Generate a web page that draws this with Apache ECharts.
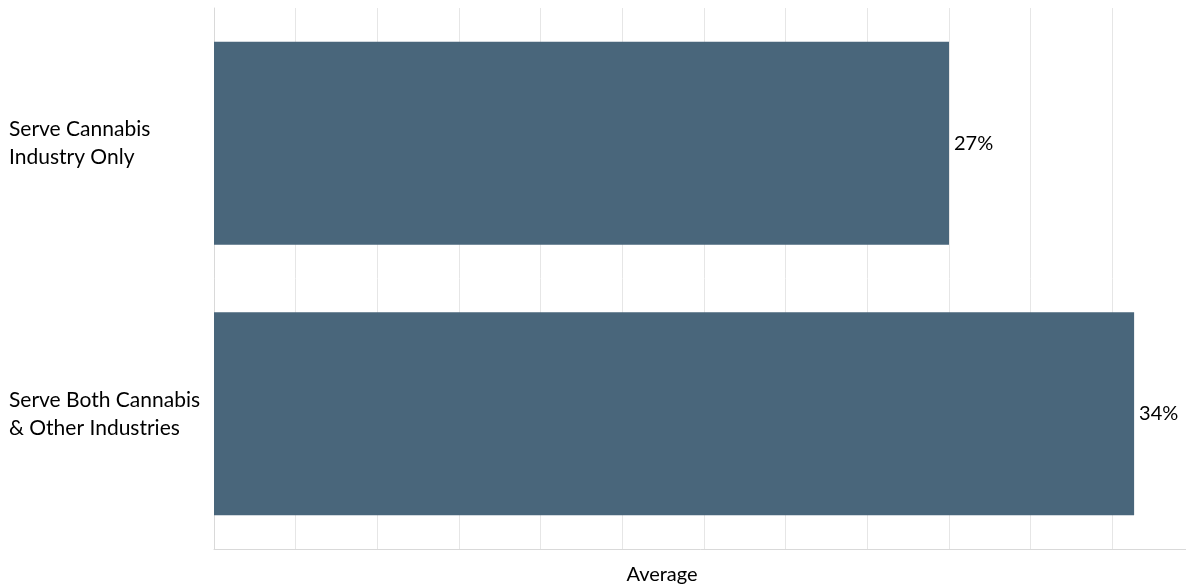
<!DOCTYPE html>
<html><head><meta charset="utf-8">
<script src="https://cdn.jsdelivr.net/npm/echarts@6/dist/echarts.min.js"></script>
<style>html,body{margin:0;padding:0;background:#fff}#c{width:1186px;height:588px}</style>
</head><body><div id="c"></div>
<script>
const categories = ["Serve Cannabis\nIndustry Only", "Serve Both Cannabis\n& Other Industries"];
const values = [0.27, 0.338];
const axisName = "Average";

const chart = echarts.init(document.getElementById('c'), null, {renderer: 'canvas'});
const FONT = 'Lato';
chart.setOption({
  animation: false,
  grid: {left: 214, right: -8, top: 8, bottom: 39, containLabel: false, outerBoundsMode: 'none'},
  xAxis: {
    type: 'value', min: 0, max: 0.36, interval: 0.03,
    name: axisName, nameLocation: 'middle', nameGap: 16,
    nameTextStyle: {fontFamily: FONT, fontSize: 20, color: '#000', padding: [0, 84, 0, 0]},
    axisLabel: {show: false}, axisTick: {show: false},
    axisLine: {show: true, lineStyle: {color: '#d9d9d9', width: 1}},
    splitLine: {show: true, lineStyle: {color: '#e6e6e6', width: 1}}
  },
  yAxis: {
    type: 'category', data: categories, inverse: true,
    axisTick: {show: false},
    axisLine: {show: true, lineStyle: {color: '#d9d9d9', width: 1}},
    axisLabel: {align: 'left', margin: 205, fontFamily: FONT, fontSize: 21, color: '#000', lineHeight: 28, padding: [4, 0, 0, 0]}
  },
  series: [{
    type: 'bar', data: values, barCategoryGap: '25%',
    itemStyle: {color: '#49667b'},
    label: {show: true, position: 'right', distance: 5, fontFamily: FONT, fontSize: 20, color: '#000',
      formatter: p => Math.round(p.value * 100) + '%'}
  }]
});
</script></body></html>
